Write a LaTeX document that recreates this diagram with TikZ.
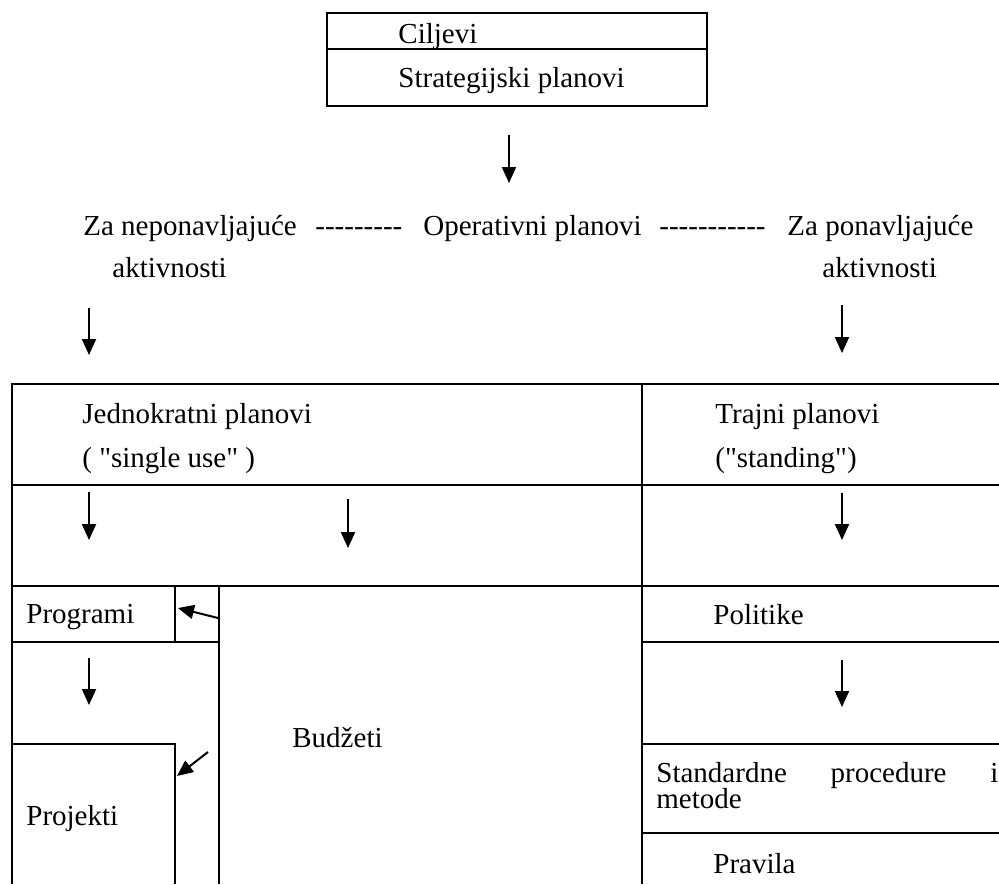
\documentclass[tikz,border=0pt]{standalone}
\usepackage{fontspec}
\setmainfont{Liberation Serif}[Ligatures=TeXOff]
\usetikzlibrary{arrows.meta}

\begin{document}
\begin{tikzpicture}[
x=0.5pt, y=-0.5pt, %pikseli, y prema dolje
txt/.style={inner sep=0pt, anchor=base west, font=\fontsize{14.5}{17}\selectfont},
arr/.style={line width=1pt, -{Triangle[length=8pt,width=7pt]}},
ln/.style={line width=0.8pt},
]
\useasboundingbox (0,0) rectangle (999,884);

%gornja tablica
\draw[ln] (327,13) rectangle (707,106);
\draw[ln] (327,49) -- (707,49);
\node[txt] (cilj) at (398,43) {Ciljevi};
\node[txt] (strat) at (398,87) {Strategijski planovi};

%operativni planovi
\node[txt] (nepon) at (83,235) {Za neponavljajuće};
\node[txt] (nepon2) at (112,277) {aktivnosti};
\node[txt] (crt1) at (315,235) {---------};
\node[txt] (oper) at (423,235) {Operativni planovi};
\node[txt] (crt2) at (659,235) {-----------};
\node[txt] (pon) at (787,235) {Za ponavljajuće};
\node[txt] (pon2) at (822,277) {aktivnosti};

%donja tablica
\draw[ln] (999,384) -- (12,384) -- (12,884);
\draw[ln] (642,384) -- (642,884);
\draw[ln] (12,485) -- (999,485);
\draw[ln] (12,586) -- (999,586);
\draw[ln] (175,586) -- (175,642);
\draw[ln] (12,642) -- (219,642);
\draw[ln] (219,586) -- (219,884);
\draw[ln] (12,744) -- (175,744) -- (175,884);
\draw[ln] (642,642) -- (999,642);
\draw[ln] (642,744) -- (999,744);
\draw[ln] (642,833) -- (999,833);

\node[txt] (jedn) at (82,423) {Jednokratni planovi};
\node[txt] (jedn2) at (82,467) {( "single use" )};
\node[txt] (traj) at (715,423) {Trajni planovi};
\node[txt] (traj2) at (715,467) {("standing")};
\node[txt] (prog) at (26,623) {Programi};
\node[txt] (budz) at (292,747) {Budžeti};
\node[txt] (proj) at (26,825) {Projekti};
\node[txt] (polit) at (713,624) {Politike};
\node[txt] (stand) at (656,782) {\makebox[171pt][s]{Standardne procedure i}};
\node[txt] (stand2) at (656,808) {metode};
\node[txt] (prav) at (713,873) {Pravila};

%strelice
\coordinate (s1) at (509,135); \coordinate (e1) at (509,183);
\coordinate (s2) at (89,308); \coordinate (e2) at (89,355);
\coordinate (s3) at (842,305); \coordinate (e3) at (842,353);
\coordinate (s4) at (89,492); \coordinate (e4) at (89,540);
\coordinate (s5) at (348,499); \coordinate (e5) at (348,548);
\coordinate (s6) at (842,493); \coordinate (e6) at (842,540);
\coordinate (s7) at (218,618); \coordinate (e7) at (178,608);
\coordinate (s8) at (89,658); \coordinate (e8) at (89,705);
\coordinate (s9) at (208,752); \coordinate (e9) at (177,776);
\coordinate (s10) at (842,660); \coordinate (e10) at (842,707);
\draw[arr] (s1) -- (e1);
\draw[arr] (s2) -- (e2);
\draw[arr] (s3) -- (e3);
\draw[arr] (s4) -- (e4);
\draw[arr] (s5) -- (e5);
\draw[arr] (s6) -- (e6);
\draw[arr] (s7) -- (e7);
\draw[arr] (s8) -- (e8);
\draw[arr] (s9) -- (e9);
\draw[arr] (s10) -- (e10);
\end{tikzpicture}
\end{document}
